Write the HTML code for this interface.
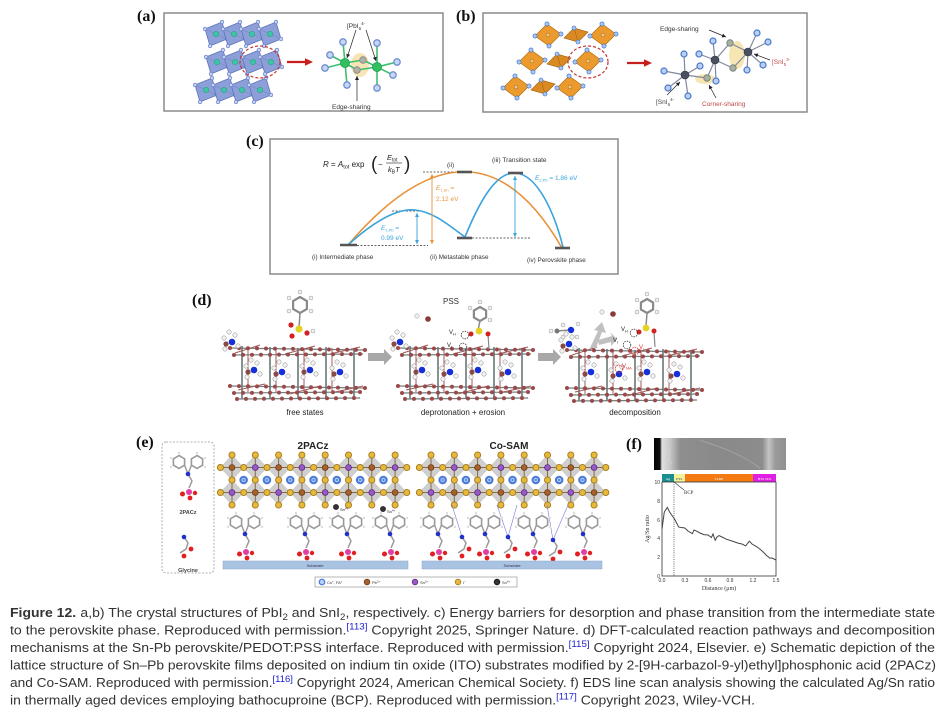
<!DOCTYPE html>
<html><head><meta charset="utf-8">
<style>
html,body{margin:0;padding:0;background:#fff;}
svg{display:block;}
text{font-family:"Liberation Sans",sans-serif;}
.lab{font-family:"Liberation Serif",serif;font-weight:bold;font-size:16px;fill:#111;}
.ser{font-family:"Liberation Serif",serif;}
</style></head><body>
<svg width="941" height="721" viewBox="0 0 941 721" xmlns="http://www.w3.org/2000/svg">
<defs>
 <marker id="mk" viewBox="0 0 6 6" refX="6" refY="3" markerWidth="4" markerHeight="4" orient="auto-start-reverse" markerUnits="userSpaceOnUse"><path d="M0,0L6,3L0,6z" fill="#222"/></marker>
 <marker id="mo" viewBox="0 0 6 6" refX="6" refY="3" markerWidth="4" markerHeight="4" orient="auto-start-reverse" markerUnits="userSpaceOnUse"><path d="M0,0L6,3L0,6z" fill="#e8913a"/></marker>
 <marker id="mb" viewBox="0 0 6 6" refX="6" refY="3" markerWidth="4" markerHeight="4" orient="auto-start-reverse" markerUnits="userSpaceOnUse"><path d="M0,0L6,3L0,6z" fill="#3aa3dc"/></marker>

 <g id="oa">
  <polygon points="-11,-5 6,-12 11,5 -6,12" fill="#8d9fd8" stroke="#5f73b8" stroke-width="0.8"/>
  <line x1="-11" y1="-5" x2="11" y2="5" stroke="#7084c4" stroke-width="0.5"/>
  <circle r="2.8" fill="#3ec4a4" stroke="#2a9a80" stroke-width="0.5"/>
  <circle cx="-11" cy="-5" r="1.8" fill="#c4d2f4" stroke="#5a74c0" stroke-width="0.6"/>
  <circle cx="6" cy="-12" r="1.8" fill="#c4d2f4" stroke="#5a74c0" stroke-width="0.6"/>
  <circle cx="11" cy="5" r="1.8" fill="#c4d2f4" stroke="#5a74c0" stroke-width="0.6"/>
  <circle cx="-6" cy="12" r="1.8" fill="#c4d2f4" stroke="#5a74c0" stroke-width="0.6"/>
 </g>
 <g id="ob">
  <polygon points="-13,1 -1,-11 13,-1 1,11" fill="#eb9a2e" stroke="#b86e10" stroke-width="0.7"/>
  <circle r="2" fill="#f3c47a" stroke="#a06010" stroke-width="0.5"/>
  <circle cx="-13" cy="1" r="2.1" fill="#a8c6f2" stroke="#3f70c8" stroke-width="0.6"/>
  <circle cx="-1" cy="-11" r="2.1" fill="#a8c6f2" stroke="#3f70c8" stroke-width="0.6"/>
  <circle cx="13" cy="-1" r="2.1" fill="#a8c6f2" stroke="#3f70c8" stroke-width="0.6"/>
  <circle cx="1" cy="11" r="2.1" fill="#a8c6f2" stroke="#3f70c8" stroke-width="0.6"/>
 </g>
 <g id="od">
  <polygon points="-12,3 -2,-7 12,-3 2,7" fill="#d98a22" stroke="#a86810" stroke-width="0.7"/>
  <line x1="-2" y1="-7" x2="2" y2="7" stroke="#a86810" stroke-width="0.6"/>
  <circle cx="-2" cy="-7" r="2" fill="#a8c6f2" stroke="#3f70c8" stroke-width="0.6"/>
  <circle cx="2" cy="7" r="2" fill="#a8c6f2" stroke="#3f70c8" stroke-width="0.6"/>
 </g>

 <g id="latD">
  <path d="M0,6 L135,8 M2,13 L133,12 M0,44 L135,46 M3,51 L132,50 M5,57 L130,56" stroke="#6f7f7f" stroke-width="1.2" fill="none"/>
  <path d="M12,4 V57 M40,5 V57 M68,6 V57 M96,5 V57 M124,6 V57" stroke="#687878" stroke-width="1.6" fill="none"/>
  <path d="M18,5 V50 M46,6 V50 M74,6 V50 M102,6 V50 M5,11 L30,3 M55,12 L85,4 M100,12 L130,5 M8,48 L35,42 M60,52 L90,44 M105,50 L133,44" stroke="#a45858" stroke-width="1" fill="none"/>
  <line x1="0" y1="6" x2="135" y2="8" stroke="#9b4848" stroke-width="4" stroke-linecap="round" stroke-dasharray="0 9"/>
  <line x1="4" y1="13" x2="133" y2="12" stroke="#9b4848" stroke-width="4" stroke-linecap="round" stroke-dasharray="0 9"/>
  <line x1="0" y1="44" x2="135" y2="46" stroke="#9b4848" stroke-width="4" stroke-linecap="round" stroke-dasharray="0 9"/>
  <line x1="4" y1="51" x2="132" y2="50" stroke="#9b4848" stroke-width="4" stroke-linecap="round" stroke-dasharray="0 9"/>
  <line x1="7" y1="57" x2="130" y2="56" stroke="#9b4848" stroke-width="4" stroke-linecap="round" stroke-dasharray="0 9"/>
  <g id="ma">
   <circle cx="-6" cy="-4" r="2.2" fill="#f2f2f2" stroke="#8a8a8a" stroke-width="0.5"/>
   <circle cx="5" cy="-7" r="2.2" fill="#f2f2f2" stroke="#8a8a8a" stroke-width="0.5"/>
   <circle cx="-5" cy="7" r="2.2" fill="#f2f2f2" stroke="#8a8a8a" stroke-width="0.5"/>
   <circle cx="8" cy="4" r="2.2" fill="#f2f2f2" stroke="#8a8a8a" stroke-width="0.5"/>
   <circle cx="-1" cy="-10" r="2.2" fill="#f2f2f2" stroke="#8a8a8a" stroke-width="0.5"/>
   <circle cx="-4" cy="2" r="2.6" fill="#8a4a44"/>
   <circle cx="2" cy="0" r="3.3" fill="#1530d8"/>
  </g>
  <use href="#ma" x="22" y="28"/>
  <use href="#ma" x="50" y="30"/>
  <use href="#ma" x="78" y="28"/>
  <use href="#ma" x="108" y="30"/>
 </g>

 <polygon id="dm" points="0,-12.5 11.65,0 0,12.5 -11.65,0" fill="#cfcfcf" stroke="#bdbdbd" stroke-width="0.5"/>
 <g id="latE">
  <use href="#dm" x="232" y="467.5"/><use href="#dm" x="255.3" y="467.5"/><use href="#dm" x="278.6" y="467.5"/><use href="#dm" x="301.9" y="467.5"/>
  <use href="#dm" x="325.2" y="467.5"/><use href="#dm" x="348.5" y="467.5"/><use href="#dm" x="371.8" y="467.5"/><use href="#dm" x="395.1" y="467.5"/>
  <use href="#dm" x="232" y="492.5"/><use href="#dm" x="255.3" y="492.5"/><use href="#dm" x="278.6" y="492.5"/><use href="#dm" x="301.9" y="492.5"/>
  <use href="#dm" x="325.2" y="492.5"/><use href="#dm" x="348.5" y="492.5"/><use href="#dm" x="371.8" y="492.5"/><use href="#dm" x="395.1" y="492.5"/>
  <path d="M220,467.5H407M220,492.5H407M232,455V505M255.3,455V505M278.6,455V505M301.9,455V505M325.2,455V505M348.5,455V505M371.8,455V505M395.1,455V505" stroke="#8a6a40" stroke-width="1" fill="none"/>
  <g stroke-linecap="round" fill="none">
   <path d="M232,455H395.6M232,480H395.6M232,505H395.6M220.4,467.5H407.3M220.4,492.5H407.3" stroke="#a07818" stroke-width="7" stroke-dasharray="0 23.3"/>
   <path d="M232,455H395.6M232,480H395.6M232,505H395.6M220.4,467.5H407.3M220.4,492.5H407.3" stroke="#e8b83c" stroke-width="5.2" stroke-dasharray="0 23.3"/>
   <path d="M232,467.5H372.3M255.3,492.5H395.6" stroke="#6a3a18" stroke-width="6.6" stroke-dasharray="0 46.6"/>
   <path d="M232,467.5H372.3M255.3,492.5H395.6" stroke="#a8602c" stroke-width="5" stroke-dasharray="0 46.6"/>
   <path d="M255.3,467.5H395.6M232,492.5H372.3" stroke="#5a2a80" stroke-width="6.6" stroke-dasharray="0 46.6"/>
   <path d="M255.3,467.5H395.6M232,492.5H372.3" stroke="#9a58c8" stroke-width="5" stroke-dasharray="0 46.6"/>
   <path d="M243.65,480H384.1" stroke="#4a7ad8" stroke-width="8.6" stroke-dasharray="0 23.3"/>
   <path d="M243.65,480H384.1" stroke="#b8d0f8" stroke-width="4.4" stroke-dasharray="0 23.3"/>
   <path d="M243.65,480H384.1" stroke="#5a8ae0" stroke-width="2.4" stroke-dasharray="0 23.3"/>
  </g>
 </g>

 <g id="cbz">
  <polygon points="-9,-8.5 -3.4,-5.2 -3.4,1.2 -9,4.5 -14.6,1.2 -14.6,-5.2" fill="none" stroke="#9a9a9a" stroke-width="1.6"/>
  <polygon points="9,-8.5 14.6,-5.2 14.6,1.2 9,4.5 3.4,1.2 3.4,-5.2" fill="none" stroke="#9a9a9a" stroke-width="1.6"/>
  <polyline points="-3.4,1.2 0,10 3.4,1.2" fill="none" stroke="#9a9a9a" stroke-width="1.4"/>
  <circle cx="-9" cy="-11" r="1.2" fill="#ddd"/><circle cx="9" cy="-11" r="1.2" fill="#ddd"/>
  <circle cx="-17" cy="-6" r="1.2" fill="#ddd"/><circle cx="17" cy="-6" r="1.2" fill="#ddd"/>
  <circle cx="-17" cy="3" r="1.2" fill="#ddd"/><circle cx="17" cy="3" r="1.2" fill="#ddd"/>
  <polyline points="0,10 4,17 1,24" fill="none" stroke="#9a9a9a" stroke-width="1.5"/>
  <circle cx="0" cy="10" r="2.3" fill="#2030c8"/>
  <circle cx="-5.5" cy="30" r="2.5" fill="#e02020"/>
  <circle cx="7" cy="29" r="2.2" fill="#e02020"/>
  <circle cx="2" cy="34" r="2.4" fill="#e02020"/>
  <circle cx="1" cy="28" r="3" fill="#e23ea6"/>
 </g>
 <g id="gly">
  <polyline points="0,0 4,6 2,12 -4,16" fill="none" stroke="#9a9a9a" stroke-width="1.5"/>
  <circle cx="0" cy="0" r="2.3" fill="#2030c8"/>
  <circle cx="7" cy="12" r="2.4" fill="#e02020"/>
  <circle cx="0" cy="19" r="2.4" fill="#e02020"/>
 </g>
 <linearGradient id="sem" x1="0" x2="1" y1="0" y2="0">
  <stop offset="0" stop-color="#050505"/><stop offset="0.045" stop-color="#101010"/>
  <stop offset="0.06" stop-color="#e0e0e0"/><stop offset="0.12" stop-color="#c8c8c8"/>
  <stop offset="0.2" stop-color="#8e8e8e"/><stop offset="0.5" stop-color="#8a8a8a"/>
  <stop offset="0.82" stop-color="#8c8c8c"/><stop offset="0.87" stop-color="#c4c4c4"/>
  <stop offset="0.92" stop-color="#9a9a9a"/><stop offset="1" stop-color="#909090"/>
 </linearGradient>
</defs>

<rect width="941" height="721" fill="#fff"/>

<!-- ================= (a) ================= -->
<text class="lab" x="137" y="21">(a)</text>
<rect x="164" y="13" width="279" height="98" fill="#fff" stroke="#8a8a8a" stroke-width="1.5"/>
<use href="#oa" x="216" y="34"/><use href="#oa" x="234" y="34"/><use href="#oa" x="252" y="34"/><use href="#oa" x="270" y="34"/>
<use href="#oa" x="217" y="62"/><use href="#oa" x="235" y="62"/><use href="#oa" x="253" y="62"/><use href="#oa" x="271" y="62"/>
<use href="#oa" x="206" y="90"/><use href="#oa" x="224" y="90"/><use href="#oa" x="242" y="90"/><use href="#oa" x="260" y="90"/>
<ellipse cx="260" cy="62" rx="20" ry="16" fill="none" stroke="#c83030" stroke-width="1.2" stroke-dasharray="3,2"/>
<line x1="287" y1="62" x2="306" y2="62" stroke="#c81e1e" stroke-width="2.2"/>
<polygon points="305,58.3 313,62 305,65.7" fill="#c81e1e"/>
<ellipse cx="360" cy="65" rx="9" ry="12" fill="#f6dfa2" opacity="0.8"/>
<g stroke="#3cc070" stroke-width="1.6">
 <line x1="345" y1="63" x2="343" y2="42"/><line x1="345" y1="63" x2="330" y2="55"/><line x1="345" y1="63" x2="325" y2="68"/><line x1="345" y1="63" x2="347" y2="85"/>
 <line x1="345" y1="63" x2="363" y2="60"/><line x1="345" y1="63" x2="357" y2="70"/>
 <line x1="377" y1="67" x2="377" y2="43"/><line x1="377" y1="67" x2="397" y2="62"/><line x1="377" y1="67" x2="393" y2="75"/><line x1="377" y1="67" x2="377" y2="88"/>
 <line x1="377" y1="67" x2="363" y2="60"/><line x1="377" y1="67" x2="357" y2="70"/>
</g>
<g fill="#c8d6f6" stroke="#6f8fd0" stroke-width="1.3">
 <circle cx="343" cy="42" r="3.2"/><circle cx="330" cy="55" r="3.2"/><circle cx="325" cy="68" r="3.2"/><circle cx="347" cy="85" r="3.2"/>
 <circle cx="377" cy="43" r="3.2"/><circle cx="397" cy="62" r="3.2"/><circle cx="393" cy="75" r="3.2"/><circle cx="377" cy="88" r="3.2"/>
</g>
<circle cx="363" cy="60" r="3.3" fill="#b0b0a8" stroke="#888" stroke-width="0.8"/>
<circle cx="357" cy="70" r="3.3" fill="#b0b0a8" stroke="#888" stroke-width="0.8"/>
<circle cx="345" cy="63" r="4.6" fill="#2fc060" stroke="#1a9040" stroke-width="0.6"/>
<circle cx="377" cy="67" r="4.6" fill="#2fc060" stroke="#1a9040" stroke-width="0.6"/>
<text x="347" y="28" font-size="6.5" fill="#333">[PbI<tspan font-size="4.5" dy="2">6</tspan><tspan font-size="4.5" dy="-5">4-</tspan></text>
<line x1="356" y1="30" x2="347" y2="58" stroke="#222" stroke-width="0.7" marker-end="url(#mk)"/>
<line x1="366" y1="30" x2="376" y2="61" stroke="#222" stroke-width="0.7" marker-end="url(#mk)"/>
<line x1="357" y1="101" x2="357" y2="76" stroke="#222" stroke-width="0.7" marker-end="url(#mk)"/>
<text x="332" y="109" font-size="6.5" fill="#333">Edge-sharing</text>

<!-- ================= (b) ================= -->
<text class="lab" x="456" y="21">(b)</text>
<rect x="483" y="13" width="324" height="99" fill="#fff" stroke="#8a8a8a" stroke-width="1.5"/>
<use href="#ob" x="548" y="35"/><use href="#od" x="576" y="35"/><use href="#ob" x="603" y="35"/>
<use href="#ob" x="532" y="61"/><use href="#od" x="559" y="61"/><use href="#ob" x="588" y="61"/>
<use href="#ob" x="516" y="87"/><use href="#od" x="543" y="87"/><use href="#ob" x="570" y="87"/>
<ellipse cx="588" cy="62" rx="20" ry="16" fill="none" stroke="#c83030" stroke-width="1.2" stroke-dasharray="3,2"/>
<line x1="627" y1="63" x2="645" y2="63" stroke="#c81e1e" stroke-width="2.2"/>
<polygon points="644,59.3 652,63 644,66.7" fill="#c81e1e"/>
<ellipse cx="737" cy="55" rx="8" ry="14" fill="#f6e2a6" opacity="0.85"/>
<ellipse cx="705" cy="79" rx="10" ry="5" fill="#f6e2a6" opacity="0.85"/>
<g stroke="#8088a0" stroke-width="1.2">
 <line x1="685" y1="75" x2="684" y2="54"/><line x1="685" y1="75" x2="664" y2="71"/><line x1="685" y1="75" x2="668" y2="88"/><line x1="685" y1="75" x2="688" y2="96"/><line x1="685" y1="75" x2="707" y2="78"/><line x1="685" y1="75" x2="700" y2="66"/>
 <line x1="715" y1="60" x2="713" y2="41"/><line x1="715" y1="60" x2="716" y2="81"/><line x1="715" y1="60" x2="730" y2="43"/><line x1="715" y1="60" x2="733" y2="68"/><line x1="715" y1="60" x2="707" y2="78"/><line x1="715" y1="60" x2="699" y2="54"/>
 <line x1="748" y1="52" x2="757" y2="33"/><line x1="748" y1="52" x2="768" y2="42"/><line x1="748" y1="52" x2="763" y2="65"/><line x1="748" y1="52" x2="747" y2="70"/><line x1="748" y1="52" x2="730" y2="43"/><line x1="748" y1="52" x2="733" y2="68"/>
</g>
<g fill="#b8d0f4" stroke="#4a78c8" stroke-width="1.2">
 <circle cx="684" cy="54" r="3"/><circle cx="664" cy="71" r="3"/><circle cx="668" cy="88" r="3"/><circle cx="688" cy="96" r="3"/><circle cx="700" cy="66" r="3"/>
 <circle cx="713" cy="41" r="3"/><circle cx="716" cy="81" r="3"/><circle cx="699" cy="54" r="3"/>
 <circle cx="757" cy="33" r="3"/><circle cx="768" cy="42" r="3"/><circle cx="763" cy="65" r="3"/><circle cx="747" cy="70" r="3"/>
</g>
<g fill="#a8b0a4" stroke="#7a8878" stroke-width="1"><circle cx="707" cy="78" r="3.2"/><circle cx="730" cy="43" r="3.2"/><circle cx="733" cy="68" r="3.2"/></g>
<g fill="#4a5060" stroke="#2a3040" stroke-width="0.6"><circle cx="685" cy="75" r="4"/><circle cx="715" cy="60" r="4"/><circle cx="748" cy="52" r="4"/></g>
<text x="660" y="31" font-size="6.5" fill="#333">Edge-sharing</text>
<line x1="709" y1="30" x2="726" y2="37" stroke="#222" stroke-width="0.7" marker-end="url(#mk)"/>
<text x="772" y="64" font-size="6.5" fill="#c04848">[SnI<tspan font-size="4.5" dy="2">5</tspan><tspan font-size="4.5" dy="-5">3-</tspan></text>
<line x1="770" y1="60" x2="754" y2="54" stroke="#222" stroke-width="0.7" marker-end="url(#mk)"/>
<text x="656" y="104" font-size="6.5" fill="#444">[SnI<tspan font-size="4.5" dy="2">6</tspan><tspan font-size="4.5" dy="-5">4-</tspan></text>
<line x1="667" y1="95" x2="680" y2="82" stroke="#222" stroke-width="0.7" marker-end="url(#mk)"/>
<text x="702" y="106" font-size="6.5" fill="#c04848">Corner-sharing</text>
<line x1="716" y1="98" x2="709" y2="85" stroke="#222" stroke-width="0.7" marker-end="url(#mk)"/>

<!-- ================= (c) ================= -->
<text class="lab" x="246" y="146">(c)</text>
<rect x="270" y="139" width="348" height="135" fill="#fff" stroke="#8a8a8a" stroke-width="1.5"/>
<text x="323" y="167" font-size="8" fill="#222"><tspan font-style="italic">R</tspan> = <tspan font-style="italic">A</tspan><tspan font-size="5.5" dy="1.5">tot</tspan><tspan dy="-1.5"> exp</tspan></text>
<text x="371" y="170" font-size="19" fill="#222">(</text>
<text x="378" y="167" font-size="8" fill="#222">−</text>
<text x="387" y="160" font-size="7.5" fill="#222" font-style="italic">E<tspan font-size="5" font-style="normal" dy="1.5">tot</tspan></text>
<line x1="386" y1="163" x2="402" y2="163" stroke="#222" stroke-width="0.6"/>
<text x="388" y="172" font-size="7.5" fill="#222" font-style="italic">k<tspan font-size="5" font-style="normal" dy="1.5">B</tspan><tspan dy="-1.5">T</tspan></text>
<text x="404" y="170" font-size="19" fill="#222">)</text>
<text x="447" y="167" font-size="6.5" fill="#333">(ii)</text>
<text x="492" y="162" font-size="6.5" fill="#333">(iii) Transition state</text>
<g stroke="#333" stroke-width="0.7" stroke-dasharray="2,1.5">
 <line x1="357" y1="245.5" x2="428" y2="245.5"/><line x1="392" y1="211" x2="422" y2="211"/>
 <line x1="423" y1="172" x2="457" y2="172"/><line x1="472" y1="238" x2="531" y2="238"/>
</g>
<path d="M348,245 Q475,97 562,248" fill="none" stroke="#e8913a" stroke-width="1.6"/>
<path d="M348,245 C370,225 395,208 415,210 C435,212 452,228 465,237 C478,205 495,172 515,173 C538,174 555,215 563,247" fill="none" stroke="#3aa3dc" stroke-width="1.6"/>
<line x1="432" y1="174" x2="432" y2="244" stroke="#e8913a" stroke-width="0.9" marker-start="url(#mo)" marker-end="url(#mo)"/>
<line x1="417" y1="213" x2="417" y2="244" stroke="#3aa3dc" stroke-width="0.9" marker-start="url(#mb)" marker-end="url(#mb)"/>
<line x1="515" y1="176" x2="515" y2="237" stroke="#3aa3dc" stroke-width="0.9" marker-start="url(#mb)" marker-end="url(#mb)"/>
<g stroke="#555" stroke-width="2.6">
 <line x1="340" y1="245" x2="357" y2="245"/><line x1="457" y1="172" x2="472" y2="172"/>
 <line x1="508" y1="173" x2="523" y2="173"/><line x1="457" y1="238" x2="472" y2="238"/>
 <line x1="555" y1="248" x2="570" y2="248"/>
</g>
<text x="436" y="190" font-size="6.5" fill="#e8913a"><tspan font-style="italic">E</tspan><tspan font-size="4" dy="1.5">1,Sn</tspan><tspan dy="-1.5"> =</tspan></text>
<text x="436" y="201" font-size="6.5" fill="#e8913a">2.12 eV</text>
<text x="381" y="230" font-size="6.5" fill="#3aa3dc"><tspan font-style="italic">E</tspan><tspan font-size="4" dy="1.5">1,Pb</tspan><tspan dy="-1.5"> =</tspan></text>
<text x="381" y="240" font-size="6.5" fill="#3aa3dc">0.99 eV</text>
<text x="535" y="180" font-size="6.5" fill="#3aa3dc"><tspan font-style="italic">E</tspan><tspan font-size="4" dy="1.5">2,Pb</tspan><tspan dy="-1.5"> = 1.86 eV</tspan></text>
<text x="312" y="259" font-size="6.3" fill="#333">(i) Intermediate phase</text>
<text x="430" y="259" font-size="6.3" fill="#333">(ii) Metastable phase</text>
<text x="527" y="262" font-size="6.3" fill="#333">(iv) Perovskite phase</text>

<!-- ================= (d) ================= -->
<text class="lab" x="192" y="305">(d)</text>
<use href="#latD" x="230" y="342"/>
<use href="#latD" x="398" y="342"/>
<use href="#latD" x="567" y="344"/>
<polygon points="300,297 306.9,301 306.9,309 300,313 293.1,309 293.1,301" fill="none" stroke="#8a8a8a" stroke-width="2.2"/>
<g fill="#f0f0f0" stroke="#999" stroke-width="0.5"><circle cx="300" cy="292" r="2"/><circle cx="311" cy="298" r="2"/><circle cx="311" cy="311" r="2"/><circle cx="289" cy="298" r="2"/><circle cx="289" cy="311" r="2"/><circle cx="313" cy="331" r="2"/></g>
<line x1="300" y1="313" x2="299" y2="328" stroke="#8a8a8a" stroke-width="1.5"/>
<g fill="#d42020"><circle cx="291" cy="325" r="2.6"/><circle cx="292" cy="336" r="2.6"/><circle cx="307" cy="333" r="2.6"/></g>
<circle cx="299" cy="329" r="3.6" fill="#e6d020"/>
<text x="443" y="304" font-size="8" fill="#333">PSS</text>
<polygon points="480,307 486.1,310.5 486.1,317.5 480,321 473.9,317.5 473.9,310.5" fill="none" stroke="#8a8a8a" stroke-width="2.2"/>
<g fill="#f0f0f0" stroke="#999" stroke-width="0.5"><circle cx="480" cy="302" r="2"/><circle cx="490" cy="308" r="2"/><circle cx="470" cy="308" r="2"/><circle cx="490" cy="320" r="2"/><circle cx="417" cy="316" r="2.2"/></g>
<line x1="480" y1="321" x2="478" y2="330" stroke="#8a8a8a" stroke-width="1.5"/>
<line x1="488" y1="334" x2="489" y2="349" stroke="#888" stroke-width="1.2"/>
<circle cx="428" cy="319" r="2.8" fill="#8a3a38"/>
<g fill="#d42020"><circle cx="471" cy="334" r="2.5"/><circle cx="488" cy="334" r="2.5"/></g>
<circle cx="479" cy="331" r="3.4" fill="#e6d020"/>
<text x="449" y="334" font-size="6" fill="#222">V<tspan font-size="3.8" dy="1.5">H</tspan></text>
<circle cx="465" cy="335" r="3.8" fill="none" stroke="#333" stroke-width="0.8" stroke-dasharray="1.5,1"/>
<text x="447" y="347" font-size="6" fill="#222">V<tspan font-size="3.8" dy="1.5">I</tspan></text>
<circle cx="463" cy="347" r="3.8" fill="none" stroke="#333" stroke-width="0.8" stroke-dasharray="1.5,1"/>
<polygon points="368,353 384,353 384,349 392,357 384,365 384,361 368,361" fill="#a8a8a8"/>
<polygon points="538,353 553,353 553,349 561,357 553,365 553,361 538,361" fill="#a8a8a8"/>
<g fill="#f0f0f0" stroke="#999" stroke-width="0.5"><circle cx="563" cy="325" r="2"/><circle cx="578" cy="324" r="2"/><circle cx="563" cy="337" r="2"/><circle cx="577" cy="337" r="2"/><circle cx="551" cy="331" r="2"/><circle cx="602" cy="312" r="2.2"/></g>
<line x1="556" y1="331" x2="571" y2="330" stroke="#888" stroke-width="1.4"/>
<circle cx="557" cy="331" r="2.5" fill="#777"/>
<circle cx="571" cy="330" r="3.2" fill="#1530d8"/>
<path d="M590,348 L598,331 L594,330 L602,322 L606,333 L602,332 L596,348 Z" fill="#c0c0c0"/>
<path d="M598,340 L612,336 L610,332 L617,339 L611,346 L611,342 L599,345 Z" fill="#c0c0c0"/>
<circle cx="613" cy="314" r="2.8" fill="#8a3a38"/>
<polygon points="647,299 653.1,302.5 653.1,309.5 647,313 640.9,309.5 640.9,302.5" fill="none" stroke="#8a8a8a" stroke-width="2.2"/>
<g fill="#f0f0f0" stroke="#999" stroke-width="0.5"><circle cx="647" cy="294" r="2"/><circle cx="657" cy="300" r="2"/><circle cx="637" cy="300" r="2"/><circle cx="657" cy="312" r="2"/><circle cx="637" cy="312" r="2"/></g>
<line x1="647" y1="313" x2="646" y2="326" stroke="#8a8a8a" stroke-width="1.5"/>
<line x1="654" y1="332" x2="655" y2="347" stroke="#888" stroke-width="1.2"/>
<g fill="#d42020"><circle cx="639" cy="332" r="2.5"/><circle cx="654" cy="331" r="2.5"/></g>
<circle cx="646" cy="328" r="3.4" fill="#e6d020"/>
<text x="621" y="331" font-size="6" fill="#222">V<tspan font-size="3.8" dy="1.5">H</tspan></text>
<circle cx="634" cy="333" r="3.8" fill="none" stroke="#333" stroke-width="0.8" stroke-dasharray="1.5,1"/>
<text x="613" y="342" font-size="6" fill="#222">V<tspan font-size="3.8" dy="1.5">I</tspan></text>
<circle cx="627" cy="345" r="3.8" fill="none" stroke="#333" stroke-width="0.8" stroke-dasharray="1.5,1"/>
<circle cx="635" cy="351" r="3.8" fill="none" stroke="#e03030" stroke-width="0.8" stroke-dasharray="1.5,1"/>
<text x="639" y="349" font-size="6" fill="#e03030">V<tspan font-size="3.8" dy="1.5">I</tspan></text>
<circle cx="619" cy="369" r="3.8" fill="none" stroke="#e03030" stroke-width="0.8" stroke-dasharray="1.5,1"/>
<text x="622" y="368" font-size="6" fill="#e03030">V<tspan font-size="3.8" dy="1.5">MA</tspan></text>
<text x="305" y="415" font-size="8" fill="#222" text-anchor="middle">free states</text>
<text x="463" y="415" font-size="8" fill="#222" text-anchor="middle">deprotonation + erosion</text>
<text x="635" y="415" font-size="8" fill="#222" text-anchor="middle">decomposition</text>

<!-- ================= (e) ================= -->
<text class="lab" x="136" y="447">(e)</text>
<rect x="162" y="442" width="52" height="131" rx="4" fill="none" stroke="#9a9a9a" stroke-width="0.8" stroke-dasharray="2,1.5"/>
<use href="#cbz" x="188" y="464"/>
<text x="188" y="514" font-size="5.5" font-weight="bold" fill="#444" text-anchor="middle">2PACz</text>
<use href="#gly" x="184" y="537"/>
<text x="188" y="572" font-size="5.5" font-weight="bold" fill="#444" text-anchor="middle">Glycine</text>

<text x="313" y="449" font-size="10" font-weight="bold" fill="#222" text-anchor="middle">2PACz</text>
<text x="509" y="449" font-size="10" font-weight="bold" fill="#222" text-anchor="middle">Co-SAM</text>
<use href="#latE"/>
<use href="#latE" x="199"/>
<g>
 <circle cx="336" cy="507" r="2.6" fill="#333" stroke="#111" stroke-width="0.6"/>
 <text x="340" y="511" font-size="4" fill="#222">Sn<tspan font-size="3" dy="-1.5">4+</tspan></text>
 <circle cx="383" cy="509" r="2.6" fill="#333" stroke="#111" stroke-width="0.6"/>
 <text x="387" y="513" font-size="4" fill="#222">Sn<tspan font-size="3" dy="-1.5">4+</tspan></text>
</g>
<use href="#cbz" x="245" y="524"/><use href="#cbz" x="305" y="524"/><use href="#cbz" x="347" y="524"/><use href="#cbz" x="390" y="524"/>
<g stroke="#7a7ad8" stroke-width="0.6">
 <line x1="452" y1="505" x2="462" y2="537"/><line x1="497" y1="505" x2="508" y2="537"/><line x1="517" y1="505" x2="508" y2="537"/>
 <line x1="547" y1="505" x2="553" y2="540"/><line x1="568" y1="505" x2="553" y2="540"/>
</g>
<use href="#cbz" x="438" y="524"/><use href="#cbz" x="485" y="524"/><use href="#cbz" x="533" y="524"/><use href="#cbz" x="583" y="524"/>
<use href="#gly" x="462" y="537"/><use href="#gly" x="508" y="537"/><use href="#gly" x="553" y="540"/>
<rect x="223" y="561" width="185" height="8" fill="#a9c3e3" stroke="#8aa6c8" stroke-width="0.5"/>
<text x="315" y="567" font-size="4" fill="#335" text-anchor="middle">Substrate</text>
<rect x="422" y="561" width="180" height="8" fill="#a9c3e3" stroke="#8aa6c8" stroke-width="0.5"/>
<text x="512" y="567" font-size="4" fill="#335" text-anchor="middle">Substrate</text>
<rect x="315" y="577" width="202" height="10" fill="#fff" stroke="#888" stroke-width="0.6"/>
<circle cx="322" cy="582" r="2.8" fill="#b8d0f8" stroke="#4a7ad8" stroke-width="1.2"/>
<text x="327" y="584" font-size="4" fill="#333">Cs<tspan font-size="3" dy="-1.5">+</tspan><tspan dy="1.5">, FA</tspan><tspan font-size="3" dy="-1.5">+</tspan></text>
<circle cx="367" cy="582" r="2.8" fill="#a8602c" stroke="#6a3a18" stroke-width="0.8"/>
<text x="372" y="584" font-size="4" fill="#333">Pb<tspan font-size="3" dy="-1.5">2+</tspan></text>
<circle cx="415" cy="582" r="2.8" fill="#9a58c8" stroke="#5a2a80" stroke-width="0.8"/>
<text x="420" y="584" font-size="4" fill="#333">Sn<tspan font-size="3" dy="-1.5">2+</tspan></text>
<circle cx="458" cy="582" r="2.8" fill="#e8b83c" stroke="#a07818" stroke-width="0.8"/>
<text x="463" y="584" font-size="4" fill="#333">I<tspan font-size="3" dy="-1.5">−</tspan></text>
<circle cx="497" cy="582" r="2.8" fill="#333" stroke="#111" stroke-width="0.8"/>
<text x="502" y="584" font-size="4" fill="#333">Sn<tspan font-size="3" dy="-1.5">4+</tspan></text>

<!-- ================= (f) ================= -->
<text class="lab" x="626" y="449">(f)</text>
<rect x="654" y="438" width="132" height="32" fill="url(#sem)"/>
<path d="M700,440 C715,446 735,450 760,468" stroke="#a8a8a8" stroke-width="0.8" fill="none"/>
<path d="M668,446 C672,452 666,458 672,464" stroke="#d0d0d0" stroke-width="1" fill="none"/>
<rect x="662" y="474" width="12" height="8" fill="#1a8e90"/>
<text x="668" y="480" font-size="3.5" fill="#fff" text-anchor="middle" class="ser">Ag</text>
<rect x="674" y="474" width="11" height="8" fill="#f2f29a"/>
<text x="679.5" y="480" font-size="3.5" fill="#333" text-anchor="middle" class="ser">ETL</text>
<rect x="685" y="474" width="68" height="8" fill="#f47a14"/>
<text x="719" y="480" font-size="3.5" fill="#fff" text-anchor="middle" class="ser">TLBP</text>
<rect x="753" y="474" width="23" height="8" fill="#e21ee2"/>
<text x="764.5" y="480" font-size="3.5" fill="#fff" text-anchor="middle" class="ser">HTL ITO</text>
<rect x="662" y="482" width="114" height="94" fill="none" stroke="#333" stroke-width="0.8"/>
<line x1="674" y1="482" x2="674" y2="576" stroke="#444" stroke-width="0.8" stroke-dasharray="1,1.2"/>
<line x1="674" y1="482" x2="684" y2="490" stroke="#333" stroke-width="0.6"/>
<text x="684" y="494" font-size="5" fill="#333" class="ser">BCP</text>
<polyline points="662,529 664.3,512 667.3,507.4 669.6,512 674.9,519.6 678.7,527.1 684.8,528 688,531 692.4,533.7 694,530 696.2,530.9 700,533 703.8,534.6 708,535 711.4,537.5 713,534 715.2,540.3 717,537 719,535.6 722,537 726.6,539.3 732,541 738,543.1 742,544 745.6,545.9 749.4,541.2 752,544 757,546.9 761,550 764.6,553.4 766,555 769.9,558.1 772,558 776,560" fill="none" stroke="#444" stroke-width="1"/>
<g font-size="5" fill="#333" class="ser" text-anchor="end">
 <text x="660" y="578">0</text><text x="660" y="559">2</text><text x="660" y="540">4</text><text x="660" y="522">6</text><text x="660" y="503">8</text><text x="660" y="484">10</text>
</g>
<g font-size="5" fill="#333" class="ser" text-anchor="middle">
 <text x="662" y="582">0.0</text><text x="685" y="582">0.3</text><text x="708" y="582">0.6</text><text x="730" y="582">0.9</text><text x="753" y="582">1.2</text><text x="776" y="582">1.5</text>
</g>
<text x="719" y="590" font-size="6" fill="#333" class="ser" text-anchor="middle">Distance (μm)</text>
<text x="649" y="529" font-size="6" fill="#333" class="ser" text-anchor="middle" transform="rotate(-90 649 529)">Ag/Sn ratio</text>

<!-- ================= caption ================= -->
<g font-size="13" fill="#333">
<text x="10" y="617" textLength="925" lengthAdjust="spacingAndGlyphs"><tspan font-weight="bold">Figure 12.</tspan><tspan dx="4">a,b) The crystal structures of PbI</tspan><tspan font-size="9" dy="3">2</tspan><tspan dy="-3"> and SnI</tspan><tspan font-size="9" dy="3">2</tspan><tspan dy="-3">, respectively. c) Energy barriers for desorption and phase transition from the intermediate state</tspan></text>
<text x="10" y="634.5" textLength="925" lengthAdjust="spacingAndGlyphs">to the perovskite phase. Reproduced with permission.<tspan font-size="9" dy="-5" fill="#2020d0">[113]</tspan><tspan dy="5"> Copyright 2025, Springer Nature. d) DFT-calculated reaction pathways and decomposition</tspan></text>
<text x="10" y="652" textLength="925" lengthAdjust="spacingAndGlyphs">mechanisms at the Sn-Pb perovskite/PEDOT:PSS interface. Reproduced with permission.<tspan font-size="9" dy="-5" fill="#2020d0">[115]</tspan><tspan dy="5"> Copyright 2024, Elsevier. e) Schematic depiction of the</tspan></text>
<text x="10" y="669.5" textLength="926" lengthAdjust="spacingAndGlyphs">lattice structure of Sn–Pb perovskite films deposited on indium tin oxide (ITO) substrates modified by 2-[9H-carbazol-9-yl)ethyl]phosphonic acid (2PACz)</text>
<text x="10" y="687" textLength="925" lengthAdjust="spacingAndGlyphs">and Co-SAM. Reproduced with permission.<tspan font-size="9" dy="-5" fill="#2020d0">[116]</tspan><tspan dy="5"> Copyright 2024, American Chemical Society. f) EDS line scan analysis showing the calculated Ag/Sn ratio</tspan></text>
<text x="10" y="704.5" textLength="745" lengthAdjust="spacingAndGlyphs">in thermally aged devices employing bathocuproine (BCP). Reproduced with permission.<tspan font-size="9" dy="-5" fill="#2020d0">[117]</tspan><tspan dy="5"> Copyright 2023, Wiley-VCH.</tspan></text>
</g>
</svg>
</body></html>
